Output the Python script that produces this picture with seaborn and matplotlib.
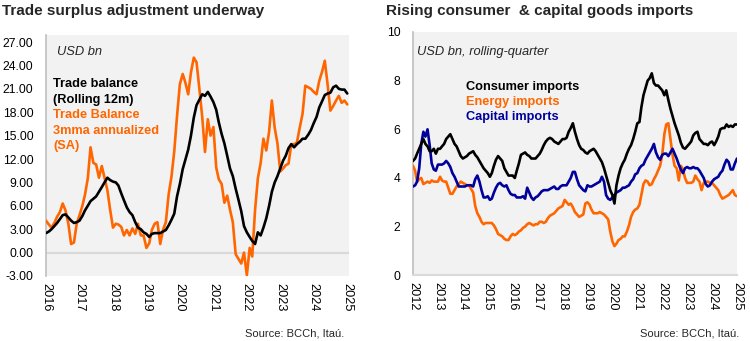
import matplotlib
matplotlib.use("Agg")
import matplotlib.pyplot as plt
import numpy as np
import pandas as pd
import seaborn as sns

# ---------------- data ----------------
left_start = "2016-01-01"
trade_balance_12m = [
    2.5, 2.7, 3.0, 3.4, 3.8, 4.3, 4.8, 4.9, 4.5, 4.1, 3.8, 3.9,
    4.1, 4.7, 5.4, 6.0, 6.6, 6.9, 7.2, 7.8, 8.4, 9.0, 9.6, 9.3,
    9.1, 9.0, 8.6, 7.6, 6.7, 5.8, 5.2, 4.8, 3.9, 3.2, 3.0, 2.6,
    2.4, 2.0, 2.4, 2.5, 2.5, 2.5, 2.7, 2.9, 3.5, 4.2, 5.0, 7.2,
    8.8, 10.7, 11.9, 13.2, 15.0, 17.3, 18.9, 19.6, 20.3, 20.1, 20.6, 20.0,
    19.3, 18.3, 16.7, 15.2, 14.0, 12.4, 10.8, 9.8, 8.2, 6.8, 5.3, 3.4,
    2.6, 2.0, 1.5, 1.1, 2.6, 2.2, 3.2, 4.4, 6.0, 7.8, 9.0, 9.8,
    10.8, 11.8, 12.4, 13.4, 13.9, 13.5, 13.9, 14.2, 14.6, 14.6, 15.1, 15.7,
    16.6, 17.4, 18.6, 19.4, 20.2, 20.4, 20.5, 21.2, 21.4, 21.0, 20.9, 20.9,
    20.4,
]
trade_balance_3mma = [
    4.1, 3.6, 3.2, 3.8, 4.6, 5.2, 6.3, 5.4, 3.7, 1.1, 1.3, 3.7,
    4.8, 6.0, 7.4, 9.5, 13.5, 11.5, 11.3, 9.6, 11.1, 9.6, 8.0, 5.5,
    3.2, 3.7, 3.6, 3.3, 2.2, 2.9, 2.2, 3.1, 2.4, 3.7, 2.2, 2.2,
    0.6, 1.2, 2.9, 3.7, 3.9, 1.1, 2.9, 3.9, 7.5, 9.7, 13.0, 17.5,
    21.6, 22.9, 21.8, 20.3, 23.1, 25.0, 24.4, 21.0, 17.4, 12.9, 17.1, 15.0,
    16.1, 10.9, 9.4, 8.8, 6.4, 7.3, 5.5, 3.9, -0.2, -0.8, -1.4, 0.0,
    -2.9, 0.6, -0.5, 5.5, 9.5, 11.5, 14.6, 13.1, 15.5, 19.5, 16.0, 14.0,
    10.4, 10.8, 11.2, 11.4, 13.9, 13.9, 14.1, 16.0, 17.8, 21.4, 21.2, 21.0,
    20.6, 20.3, 22.0, 23.2, 24.6, 21.5, 18.2, 18.8, 19.5, 20.1, 19.2, 19.5,
    19.0,
]
left_yticks = [-3, 0, 3, 6, 9, 12, 15, 18, 21, 24, 27]
left_years = list(range(2016, 2026))

right_start = "2012-01-01"
consumer_imports = [
    4.7, 4.8, 5.0, 5.2, 5.4, 5.6, 5.4, 5.3, 5.1, 5.1, 5.2, 5.0,
    5.2, 5.2, 5.3, 5.4, 5.6, 5.7, 5.8, 5.6, 5.4, 5.3, 5.1, 4.9,
    4.8, 4.85, 4.9, 5.0, 5.05, 5.1, 4.95, 4.85, 4.7, 4.55, 4.4, 4.3,
    4.2, 4.05, 4.2, 4.5, 4.75, 4.9, 4.8, 4.7, 4.4, 4.25, 4.1, 4.1,
    4.1, 4.0, 4.3, 4.6, 4.95, 5.0, 5.05, 4.95, 4.9, 4.8, 4.8, 4.8,
    4.9, 5.0, 5.15, 5.35, 5.5, 5.6, 5.65, 5.6, 5.5, 5.45, 5.4, 5.5,
    5.6, 5.6, 5.65, 5.9, 6.05, 6.25, 5.9, 5.6, 5.35, 5.2, 5.15, 5.05,
    5.0, 5.1, 5.15, 5.2, 5.1, 4.95, 4.8, 4.65, 4.4, 4.1, 3.8, 3.5,
    3.3, 2.95, 3.7, 4.1, 4.4, 4.6, 4.75, 5.0, 5.2, 5.35, 5.6, 5.9,
    6.25, 6.3, 6.9, 7.4, 7.7, 8.0, 8.1, 8.3, 7.9, 7.8, 7.8, 7.7,
    7.6, 7.4, 7.6, 7.2, 6.85, 6.55, 6.25, 6.0, 5.75, 5.45, 5.25, 5.2,
    5.3, 5.4, 5.5, 5.75, 5.85, 5.9, 5.6, 5.5, 5.4, 5.4, 5.35, 5.45,
    5.5, 5.35, 5.5, 5.7, 6.0, 6.05, 6.05, 6.2, 6.1, 6.15, 6.1, 6.2,
    6.2,
]
energy_imports = [
    4.5, 4.3, 3.85, 3.95, 4.0, 3.75, 3.8, 3.85, 3.8, 3.9, 3.85, 3.85,
    3.85, 4.05, 3.9, 3.85, 3.85, 3.6, 3.35, 3.35, 3.5, 3.65, 3.75, 3.85,
    3.8, 3.75, 3.7, 3.7, 3.55, 3.4, 2.85, 2.55, 2.4, 2.2, 2.1, 2.15,
    2.15, 2.15, 2.15, 2.05, 1.9, 1.7, 1.65, 1.6, 1.5, 1.45, 1.45, 1.6,
    1.7, 1.65, 1.7, 1.8, 1.85, 1.95, 2.0, 2.1, 2.15, 2.1, 2.05, 2.1,
    2.1, 2.2, 2.2, 2.15, 2.2, 2.35, 2.45, 2.5, 2.55, 2.65, 2.75, 2.8,
    2.85, 3.1, 3.0, 2.9, 2.95, 2.8, 2.6, 2.5, 2.4, 2.45, 2.5, 2.95,
    3.0, 2.9, 2.7, 2.55, 2.55, 2.55, 2.6, 2.55, 2.5, 2.4, 2.3, 1.8,
    1.4, 1.2, 1.3, 1.45, 1.5, 1.6, 1.6, 1.8, 2.05, 2.4, 2.6, 2.7,
    2.75, 2.9, 3.3, 3.75, 3.9, 3.85, 3.7, 3.75, 3.95, 4.1, 4.3, 4.5,
    4.95, 5.8, 6.2, 6.25, 5.6, 4.95, 4.5, 4.4, 3.9, 4.5, 4.35, 4.0,
    3.8, 3.8, 3.8, 3.85, 4.1, 3.95, 3.85, 3.5, 3.8, 3.85, 3.85, 3.8,
    3.8, 3.7, 3.6, 3.5, 3.3, 3.15, 3.2, 3.25, 3.3, 3.4, 3.5, 3.3,
    3.25,
]
capital_imports = [
    3.65, 3.7, 3.85, 4.4, 5.4, 5.9, 5.7, 6.0, 5.35, 4.6, 4.35, 4.3,
    4.55, 4.55, 4.55, 4.6, 4.7, 4.6, 4.45, 4.2, 4.05, 3.85, 3.65, 3.65,
    3.65, 3.65, 3.7, 3.7, 3.7, 3.65, 3.95, 4.1, 3.85, 3.5, 3.2, 3.2,
    3.25, 3.1, 3.15, 3.4, 3.6, 3.75, 3.8, 3.7, 3.65, 3.7, 3.5, 3.35,
    3.3, 3.3, 3.2, 3.2, 3.2, 3.25, 3.15, 3.6, 3.4, 3.2, 3.1, 3.2,
    3.25, 3.35, 3.45, 3.5, 3.5, 3.5, 3.55, 3.6, 3.65, 3.55, 3.55, 3.65,
    3.7, 3.7, 3.7, 3.85, 4.0, 4.25, 4.25, 3.95, 3.7, 3.6, 3.5, 3.45,
    3.7, 3.65, 3.65, 3.7, 3.75, 3.8, 3.85, 4.05, 3.85, 3.3, 3.15, 3.1,
    3.2, 3.3, 3.4, 3.45, 3.5, 3.6, 3.6, 3.65, 3.7, 3.85, 3.95, 4.15,
    4.2, 4.4, 4.5, 4.55, 4.75, 4.9, 5.05, 5.2, 5.4, 5.05, 4.85, 4.75,
    4.95, 5.0, 5.0, 4.9, 5.05, 5.2, 5.0, 4.8, 4.55, 4.35, 4.2, 4.4,
    4.45, 4.4, 4.4, 4.45, 4.4, 4.4, 4.3, 4.15, 4.0, 3.75, 3.65, 3.7,
    3.85, 3.95, 4.0, 4.05, 4.2, 4.3, 4.55, 4.75, 4.65, 4.35, 4.35, 4.6,
    4.8,
]
right_yticks = [0, 2, 4, 6, 8, 10]
right_years = list(range(2012, 2026))

# ---------------- styling ----------------
sns.set_style("white")
plt.rcParams["font.family"] = ["Liberation Sans", "DejaVu Sans"]

ORANGE = "#FF6600"
BLUE = "#00009C"
BLACK = "#000000"
BG = "#F2F2F2"

W, H = 750, 341
fig = plt.figure(figsize=(7.5, 3.41), dpi=100)


def ax_rect(x0, y0, x1, y1):
    return [x0 / W, 1 - y1 / H, (x1 - x0) / W, (y1 - y0) / H]


# ---------------- left panel ----------------
left_df = pd.DataFrame({
    "date": pd.date_range(left_start, periods=len(trade_balance_12m), freq="MS"),
    "tb12": trade_balance_12m,
    "tb3": trade_balance_3mma,
})
ax1 = fig.add_axes(ax_rect(46, 35, 349, 276))
ax1.set_facecolor(BG)
ax1.axhline(0, color="#D9D9D9", lw=1.6, zorder=1)
sns.lineplot(data=left_df, x="date", y="tb3", ax=ax1, color=ORANGE, lw=1.9, zorder=3)
sns.lineplot(data=left_df, x="date", y="tb12", ax=ax1, color=BLACK, lw=1.9, zorder=4)
ax1.set_ylim(-3, 27.9)
ax1.set_yticks(left_yticks)
ax1.set_yticklabels([f"{v:.2f}" for v in left_yticks])
ax1.set_xlim(pd.Timestamp("2016-01-01"), pd.Timestamp("2025-01-20"))
ax1.set_xticks([pd.Timestamp(f"{y}-01-01") for y in left_years])
ax1.set_xticklabels([str(y) for y in left_years], rotation=270)

# ---------------- right panel ----------------
right_df = pd.DataFrame({
    "date": pd.date_range(right_start, periods=len(consumer_imports), freq="MS"),
    "consumer": consumer_imports,
    "energy": energy_imports,
    "capital": capital_imports,
})
ax2 = fig.add_axes(ax_rect(413, 32, 737, 275.3))
ax2.set_facecolor(BG)
sns.lineplot(data=right_df, x="date", y="energy", ax=ax2, color=ORANGE, lw=1.9, zorder=3)
sns.lineplot(data=right_df, x="date", y="capital", ax=ax2, color=BLUE, lw=1.9, zorder=4)
sns.lineplot(data=right_df, x="date", y="consumer", ax=ax2, color=BLACK, lw=1.9, zorder=5)
ax2.set_ylim(0, 10)
ax2.set_yticks(right_yticks)
ax2.set_yticklabels([str(v) for v in right_yticks])
ax2.set_xlim(pd.Timestamp("2012-01-01"), pd.Timestamp("2025-01-01"))
ax2.set_xticks([pd.Timestamp(f"{y}-01-01") for y in right_years])
ax2.set_xticklabels([str(y) for y in right_years], rotation=270)

for ax in (ax1, ax2):
    ax.set_xlabel("")
    ax.set_ylabel("")
    ax.grid(False)
    for s in ("top", "right"):
        ax.spines[s].set_visible(False)
    ax.spines["left"].set_color("#BFBFBF")
    ax.spines["left"].set_linewidth(1.2)
    ax.tick_params(axis="both", length=0, colors="#000000")
    ax.tick_params(axis="y", pad=9, labelsize=8.7)
    ax.tick_params(axis="x", pad=5, labelsize=9.2)
    for lab in ax.get_xticklabels():
        lab.set_verticalalignment("top")
        lab.set_horizontalalignment("center")

ax1.spines["bottom"].set_visible(False)
ax2.spines["bottom"].set_color("#D9D9D9")
ax2.spines["bottom"].set_linewidth(1.5)


# ---------------- text ----------------
def ftext(x, y, s, **kw):
    fig.text(x / W, 1 - y / H, s, **kw)


ftext(2, 11, "Trade surplus adjustment underway", fontsize=11, fontweight="bold", va="center")
ftext(386, 11, "Rising consumer  & capital goods imports", fontsize=11, fontweight="bold", va="center")

ftext(57, 52, "USD bn", fontsize=9.3, style="italic", va="center")
ftext(417, 52, "USD bn, rolling-quarter", fontsize=9.3, style="italic", va="center")

LG = 9.2
ftext(53, 84, "Trade balance", fontsize=LG, fontweight="bold", color=BLACK, va="center")
ftext(53, 99.5, "(Rolling 12m)", fontsize=LG, fontweight="bold", color=BLACK, va="center")
ftext(53, 115, "Trade Balance", fontsize=LG, fontweight="bold", color=ORANGE, va="center")
ftext(53, 130.5, "3mma annualized", fontsize=LG, fontweight="bold", color=ORANGE, va="center")
ftext(53, 146, "(SA)", fontsize=LG, fontweight="bold", color=ORANGE, va="center")

ftext(466, 87, "Consumer imports", fontsize=LG, fontweight="bold", color=BLACK, va="center")
ftext(466, 102, "Energy imports", fontsize=LG, fontweight="bold", color=ORANGE, va="center")
ftext(466, 117, "Capital imports", fontsize=LG, fontweight="bold", color=BLUE, va="center")

ftext(344, 333, "Source: BCCh, Itaú.", fontsize=8.0, ha="right", va="center")
ftext(739, 333, "Source: BCCh, Itaú.", fontsize=8.0, ha="right", va="center")

fig.savefig("out.png", dpi=100, facecolor="white")
